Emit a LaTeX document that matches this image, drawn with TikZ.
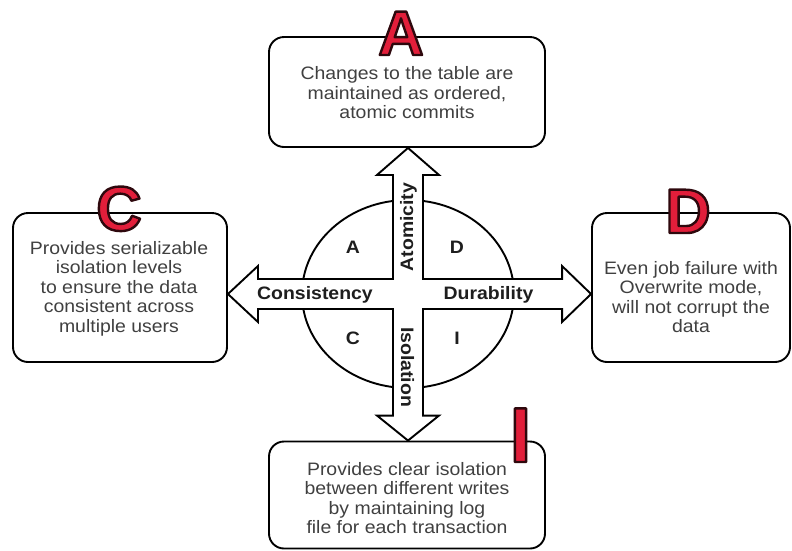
\documentclass[tikz,border=0pt]{standalone}
\usepackage{fontspec}
\setmainfont{Liberation Sans}[FakeStretch=1.08]
\newfontfamily\bigfont{Liberation Sans}
\usetikzlibrary{calc}
\definecolor{boxtext}{RGB}{64,64,64}
\definecolor{lblcol}{RGB}{30,30,30}
\definecolor{bigred}{RGB}{226,30,58}
\newcommand{\outlined}[1]{\special{pdf:code q 2 Tr 2.4 w 1 j 0.18 0.03 0.05 RG}#1\special{pdf:code Q}}
\begin{document}
\begin{tikzpicture}[x=1pt,y=-1pt,line width=1.9pt,line join=miter,
  box/.style={draw=black,fill=white,rounded corners=15pt,inner sep=0pt},
  boxtxt/.style={align=center,inner sep=0pt,text=boxtext,font=\fontsize{18}{19.5}\selectfont},
  quad/.style={inner sep=0pt,text=lblcol,font=\fontsize{18}{18}\selectfont\bfseries},
  lbl/.style={inner sep=0pt,anchor=base,text=lblcol,font=\fontsize{18}{18}\selectfont\bfseries},
  bigA/.style={inner sep=0pt,anchor=base,text=bigred,font=\bigfont\fontsize{63}{63}\selectfont\bfseries},
  bigI/.style={inner sep=0pt,anchor=base,text=bigred,font=\bigfont\fontsize{78}{78}\selectfont\bfseries},
  crossarrow/.style={draw=black,fill=white}]
\useasboundingbox (0,0) rectangle (792,550);
% boxes
\node[box,minimum width=276pt,minimum height=110pt] (A) at (407,92) {};
\node[box,minimum width=214pt,minimum height=149pt] (C) at (120,287.5) {};
\node[box,minimum width=198pt,minimum height=149pt] (D) at (691,287.5) {};
\node[box,minimum width=276pt,minimum height=107pt] (I) at (407,495) {};
\node[boxtxt] (Atxt) at (407,93) {Changes to the table are\\maintained as ordered,\\atomic commits};
\node[boxtxt] (Ctxt) at (119,288.5) {Provides serializable\\isolation levels\\to ensure the data\\consistent across\\multiple users};
\node[boxtxt] (Dtxt) at (691,297) {Even job failure with\\Overwrite mode,\\will not corrupt the\\data};
\node[boxtxt] (Itxt) at (407,498) {Provides clear isolation\\between different writes\\by maintaining log\\file for each transaction};
% center circle
\coordinate (c) at (408,294);
\draw[fill=white] (c) ellipse [x radius=106, y radius=94];
% cross arrows
\coordinate (tT) at (c |- A.south);
\coordinate (tB) at (c |- I.north);
\coordinate (tL) at (C.east |- c);
\coordinate (tR) at (D.west |- c);
\draw[crossarrow] (tT) -- ([shift={(31,27)}]tT) -- ([shift={(15,27)}]tT)
  -- ([shift={(15,-15)}]c) -- ([shift={(-29,-15)}]tR) -- ([shift={(-29,-28)}]tR)
  -- (tR) -- ([shift={(-29,28)}]tR) -- ([shift={(-29,15)}]tR)
  -- ([shift={(15,15)}]c) -- ([shift={(15,-25)}]tB) -- ([shift={(31,-25)}]tB)
  -- (tB) -- ([shift={(-31,-25)}]tB) -- ([shift={(-15,-25)}]tB)
  -- ([shift={(-15,15)}]c) -- ([shift={(30,15)}]tL) -- ([shift={(30,28)}]tL)
  -- (tL) -- ([shift={(30,-28)}]tL) -- ([shift={(30,-15)}]tL)
  -- ([shift={(-15,-15)}]c) -- ([shift={(-15,27)}]tT) -- ([shift={(-31,27)}]tT)
  -- cycle;
% quadrant letters
\node[quad] (qA) at (353,247) {A};
\node[quad] (qD) at (457,247) {D};
\node[quad] (qC) at (353,338) {C};
\node[quad] (qI) at (457,338) {I};
% arrow labels
\node[lbl] (lC) at (315,299.5) {Consistency};
\node[lbl] (lD) at (488.5,299.5) {Durability};
\node[lbl,rotate=90] (lA) at (413,227) {Atomicity};
\node[lbl,rotate=-90] (lI) at (401,367) {Isolation};
% big red letters
\node[bigA] (bA) at (401,55) {\outlined{A}};
\node[bigA] (bC) at (119,230.5) {\outlined{C}};
\node[bigA] (bD) at (688,233) {\outlined{D}};
\node[bigI] (bI) at (520.5,462) {\outlined{I}};
\end{tikzpicture}
\end{document}
